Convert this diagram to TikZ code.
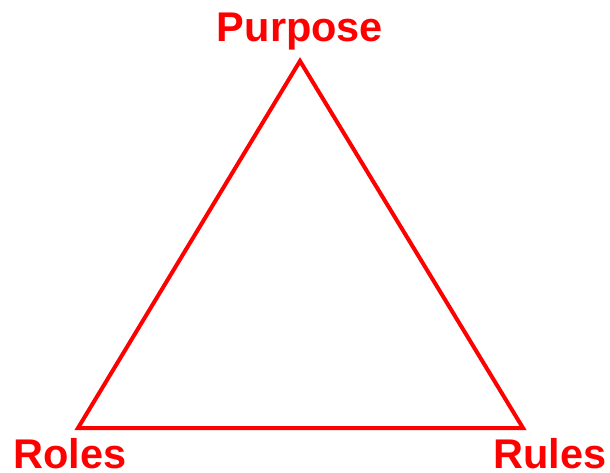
\documentclass[tikz,border=0pt]{standalone}
\usepackage{fontspec}
\setmainfont{Liberation Sans}

\tikzset{
    tri line/.style={
      draw=red,
      line width=4pt,
      line join=miter
    },
    tri label/.style={
      text=red,
      font=\bfseries\fontsize{41.5}{48}\selectfont,
      inner sep=0pt,
      anchor=base
    }
  }

\begin{document}
\begin{tikzpicture}[x=1pt,y=-1pt]
      \useasboundingbox (0,0) rectangle (610,472);

      % Ecken
      \coordinate (top) at (300,61);
      \coordinate (left) at (78,428);
      \coordinate (right) at (523,428);

      % Dreieck
      \draw[tri line] (top) -- (right) -- (left) -- cycle;

      % Beschriftung
      \node[tri label] (purpose) at (300,41) {Purpose};
      \node[tri label] (roles) at (70,468) {Roles};
      \node[tri label] (rules) at (550,468) {Rules};
    \end{tikzpicture}
\end{document}
